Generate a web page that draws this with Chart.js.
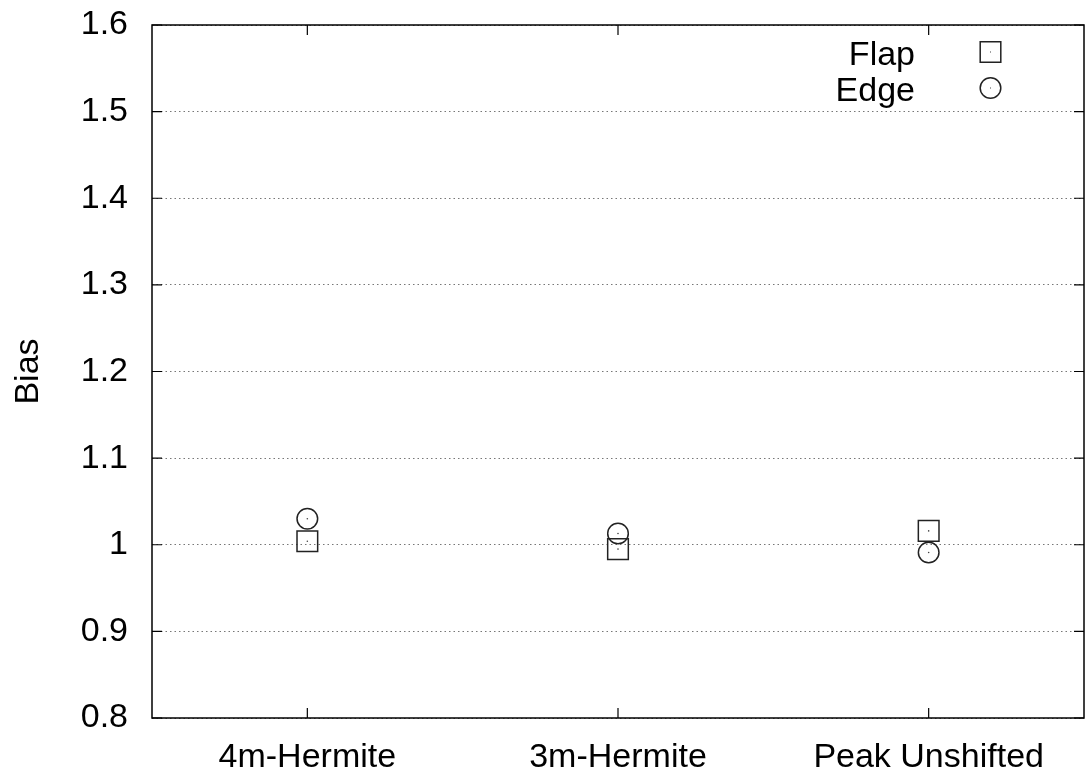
<!DOCTYPE html>
<html>
<head>
<meta charset="utf-8">
<script src="https://cdn.jsdelivr.net/npm/chart.js@4.4.1/dist/chart.umd.min.js"></script>
<style>
  html, body { margin: 0; padding: 0; background: #fff; }
  canvas { display: block; }
</style>
</head>
<body>
<canvas id="biasChart" width="1085" height="774"></canvas>
<script>
// values
const categories = ['4m-Hermite', '3m-Hermite', 'Peak Unshifted'];
const flapBias = [1.004, 0.995, 1.016];
const edgeBias = [1.030, 1.013, 0.991];
const yTicks = [0.8, 0.9, 1.0, 1.1, 1.2, 1.3, 1.4, 1.5, 1.6];
const seriesNames = ['Flap', 'Edge'];

const FONT = '"Liberation Sans", Arial, Helvetica, sans-serif';
const ink = '#000';
const markInk = '#222';

const ctx = document.getElementById('biasChart');

// gnuplot style frame with inward ticks + key on the right of the labels
const framePlugin = {
  id: 'frame',
  afterDraw(chart) {
    const { ctx, chartArea: a, scales } = chart;
    ctx.save();
    ctx.strokeStyle = ink;
    ctx.lineWidth = 1.5;
    ctx.setLineDash([]);
    ctx.strokeRect(a.left, a.top, a.right - a.left, a.bottom - a.top);

    ctx.lineWidth = 1.2;
    ctx.beginPath();
    scales.y.ticks.forEach(t => {
      const py = scales.y.getPixelForValue(t.value);
      ctx.moveTo(a.left, py); ctx.lineTo(a.left + 10, py);
      ctx.moveTo(a.right, py); ctx.lineTo(a.right - 10, py);
    });
    scales.x.ticks.forEach((t, i) => {
      const px = scales.x.getPixelForTick(i);
      ctx.moveTo(px, a.bottom); ctx.lineTo(px, a.bottom - 10);
      ctx.moveTo(px, a.top); ctx.lineTo(px, a.top + 10);
    });
    ctx.stroke();

    // key
    ctx.font = '34px ' + FONT;
    ctx.fillStyle = ink;
    ctx.textAlign = 'right';
    ctx.textBaseline = 'alphabetic';
    seriesNames.forEach((name, i) => {
      const ds = chart.data.datasets[i];
      const cy = 52 + i * 36;
      const cx = 990.5;
      ctx.fillText(name, 915, cy + 12.5);
      ctx.strokeStyle = markInk;
      ctx.lineWidth = 1.5;
      ctx.beginPath();
      if (ds.pointStyle === 'rect') {
        ctx.rect(cx - 10.3, cy - 10.3, 20.6, 20.6);
      } else {
        ctx.arc(cx, cy, 10.3, 0, Math.PI * 2);
      }
      ctx.stroke();
      ctx.fillStyle = '#444';
      ctx.fillRect(cx - 0.5, cy - 0.5, 1, 1);
      ctx.fillStyle = ink;
    });
    ctx.restore();
  }
};

const data = {
  labels: categories,
  datasets: [
    {
      label: seriesNames[0],
      data: flapBias,
      showLine: false,
      pointStyle: 'rect',
      pointRadius: 14.6,
      pointBorderWidth: 1.5,
      pointBorderColor: markInk,
      pointBackgroundColor: 'rgba(0,0,0,0)'
    },
    {
      label: seriesNames[1],
      data: edgeBias,
      showLine: false,
      pointStyle: 'circle',
      pointRadius: 10.3,
      pointBorderWidth: 1.5,
      pointBorderColor: markInk,
      pointBackgroundColor: 'rgba(0,0,0,0)'
    },
    // the little centre dots of the gnuplot symbols
    {
      label: 'flap-dot',
      data: flapBias,
      showLine: false,
      pointStyle: 'circle',
      pointRadius: 0.8,
      pointBorderWidth: 0,
      pointBackgroundColor: '#444'
    },
    {
      label: 'edge-dot',
      data: edgeBias,
      showLine: false,
      pointStyle: 'circle',
      pointRadius: 0.8,
      pointBorderWidth: 0,
      pointBackgroundColor: '#444'
    }
  ]
};

const config = {
  type: 'line',
  data: data,
  options: {
    responsive: false,
    animation: false,
    layout: { autoPadding: false, padding: { top: 25, right: 1, left: 0, bottom: 0 } },
    plugins: {
      legend: { display: false },
      tooltip: { enabled: false }
    },
    scales: {
      x: {
        type: 'category',
        offset: true,
        grid: { display: false, drawTicks: false },
        border: { display: false },
        ticks: {
          color: ink,
          font: { family: FONT, size: 34 },
          padding: 19,
          maxRotation: 0,
          autoSkip: false
        },
        afterFit: s => {
          s.height = 56;
          s.paddingLeft = 0; s.paddingRight = 0;
        }
      },
      y: {
        min: 0.8,
        max: 1.6,
        afterBuildTicks: ax => { ax.ticks = yTicks.map(v => ({ value: v })); },
        grid: { color: '#777', lineWidth: 1, drawTicks: false },
        border: { display: false, dash: [1.5, 3] },
        ticks: {
          color: ink,
          font: { family: FONT, size: 34 },
          padding: 24,
          callback: v => String(+(+v).toFixed(1))
        },
        title: {
          display: true,
          text: 'Bias',
          color: ink,
          font: { family: FONT, size: 34 },
          padding: { top: 8, bottom: 0 }
        },
        afterFit: s => {
          s.width = 152;
          s.paddingTop = 0; s.paddingBottom = 0;
        }
      }
    }
  },
  plugins: [framePlugin]
};

const biasChart = new Chart(ctx, config);
</script>
</body>
</html>
